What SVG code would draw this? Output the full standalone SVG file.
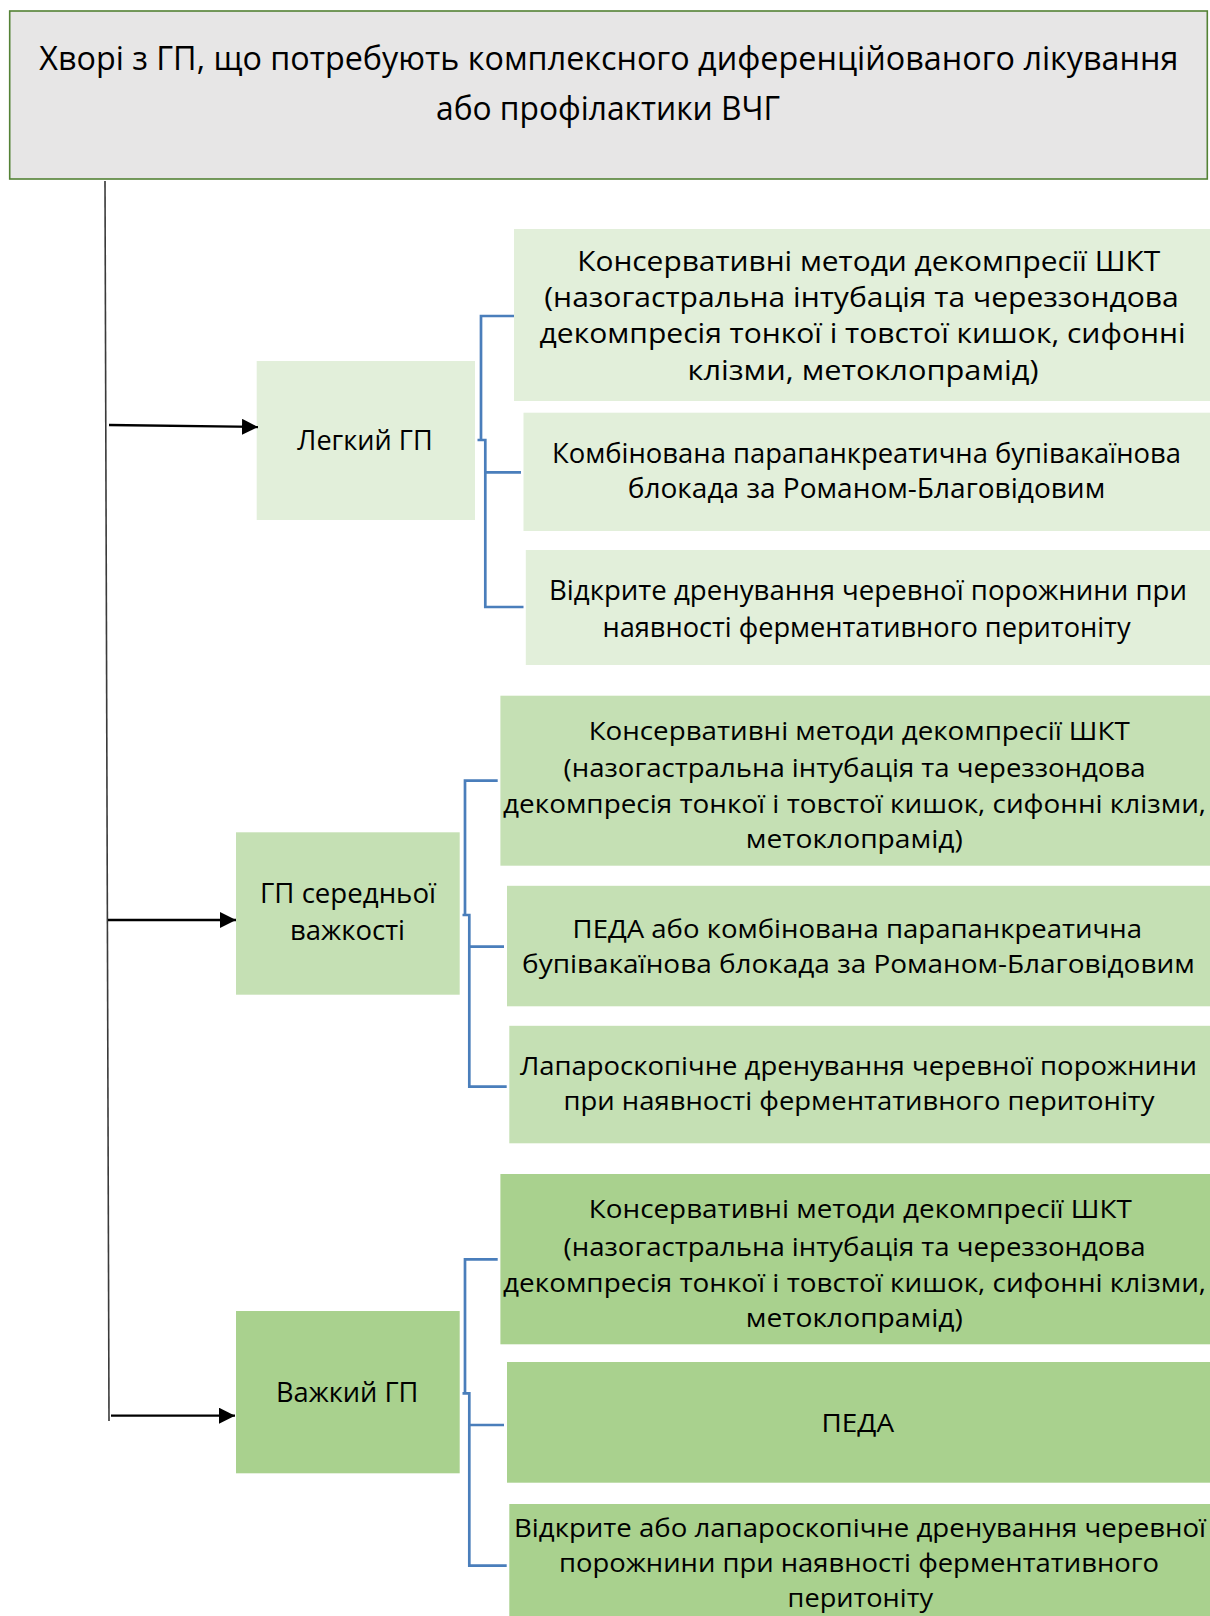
<svg xmlns="http://www.w3.org/2000/svg" width="1210" height="1616" viewBox="0 0 1210 1616">
<style>
text{font-family:"Open Sans","Noto Sans","DejaVu Sans",sans-serif;fill:#000;text-anchor:middle}
.t{font-size:32px}
.a{font-size:26.5px}
.b{font-size:25.5px}
.l{font-size:27.5px}
.lvA{fill:#E2EFDA}
.lvB{fill:#C5E0B4}
.lvC{fill:#A9D18E}
.br{fill:none;stroke:#4A7EBB;stroke-width:2.7}
.ar{fill:none;stroke:#000;stroke-width:2.3}
</style>
<defs>
<marker id="ah" markerUnits="userSpaceOnUse" markerWidth="17" markerHeight="17" refX="16" refY="8" orient="auto">
<path d="M0,0 L16,8 L0,16 z" fill="#000"/>
</marker>
</defs>
<rect width="1210" height="1616" fill="#fff"/>

<g id="title">
<rect x="9.7" y="11" width="1197.6" height="168" fill="#E7E6E6" stroke="#548235" stroke-width="1.6"/>
<text class="t" x="608.8" y="70" textLength="1139" lengthAdjust="spacingAndGlyphs">Хворі з ГП, що потребують комплексного диференційованого лікування</text>
<text class="t" x="608" y="119.5" textLength="344" lengthAdjust="spacingAndGlyphs">або профілактики ВЧГ</text>
</g>

<g id="mild">
<rect class="lvA" x="256.7" y="361" width="218.3" height="159"/>
<text class="l" x="365" y="450" textLength="135.3" lengthAdjust="spacingAndGlyphs">Легкий ГП</text>
</g>
<g id="mildA1">
<rect class="lvA" x="514" y="229" width="696" height="172"/>
<text class="a" x="868.7" y="271" textLength="583" lengthAdjust="spacingAndGlyphs">Консервативні методи декомпресії ШКТ</text>
<text class="a" x="861.5" y="307" textLength="634.5" lengthAdjust="spacingAndGlyphs">(назогастральна інтубація та череззондова</text>
<text class="a" x="862.6" y="343.3" textLength="646" lengthAdjust="spacingAndGlyphs">декомпресія тонкої і товстої кишок, сифонні</text>
<text class="a" x="863" y="379.5" textLength="351" lengthAdjust="spacingAndGlyphs">клізми, метоклопрамід)</text>
</g>
<g id="mildA2">
<rect class="lvA" x="523.5" y="412.7" width="686.5" height="118.3"/>
<text class="a" x="866.5" y="463.3" textLength="629" lengthAdjust="spacingAndGlyphs">Комбінована парапанкреатична бупівакаїнова</text>
<text class="a" x="866.5" y="498.3" textLength="477.5" lengthAdjust="spacingAndGlyphs">блокада за Романом-Благовідовим</text>
</g>
<g id="mildA3">
<rect class="lvA" x="525.8" y="550" width="684.2" height="115"/>
<text class="a" x="868" y="600" textLength="638" lengthAdjust="spacingAndGlyphs">Відкрите дренування черевної порожнини при</text>
<text class="a" x="866.5" y="636.7" textLength="528" lengthAdjust="spacingAndGlyphs">наявності ферментативного перитоніту</text>
</g>

<g id="moderate">
<rect class="lvB" x="236" y="832.3" width="223.7" height="162.4"/>
<text class="l" x="348" y="903.3" textLength="176" lengthAdjust="spacingAndGlyphs">ГП середньої</text>
<text class="l" x="347.5" y="940" textLength="115" lengthAdjust="spacingAndGlyphs">важкості</text>
</g>
<g id="modB1">
<rect class="lvB" x="500.4" y="695.7" width="709.6" height="170"/>
<text class="b" x="859.2" y="740" textLength="541" lengthAdjust="spacingAndGlyphs">Консервативні методи декомпресії ШКТ</text>
<text class="b" x="854.6" y="776.7" textLength="582" lengthAdjust="spacingAndGlyphs">(назогастральна інтубація та череззондова</text>
<text class="b" x="854.6" y="812.7" textLength="703" lengthAdjust="spacingAndGlyphs">декомпресія тонкої і товстої кишок, сифонні клізми,</text>
<text class="b" x="854.3" y="848.3" textLength="217" lengthAdjust="spacingAndGlyphs">метоклопрамід)</text>
</g>
<g id="modB2">
<rect class="lvB" x="507" y="885.8" width="703" height="120.5"/>
<text class="b" x="857.3" y="938.3" textLength="569.4" lengthAdjust="spacingAndGlyphs">ПЕДА або комбінована парапанкреатична</text>
<text class="b" x="858.4" y="973.3" textLength="672.6" lengthAdjust="spacingAndGlyphs">бупівакаїнова блокада за Романом-Благовідовим</text>
</g>
<g id="modB3">
<rect class="lvB" x="509.3" y="1025.8" width="700.7" height="117.5"/>
<text class="b" x="858.4" y="1075" textLength="677" lengthAdjust="spacingAndGlyphs">Лапароскопічне дренування черевної порожнини</text>
<text class="b" x="859" y="1110" textLength="591" lengthAdjust="spacingAndGlyphs">при наявності ферментативного перитоніту</text>
</g>

<g id="severe">
<rect class="lvC" x="236" y="1311" width="223.7" height="162.3"/>
<text class="l" x="347.2" y="1401.7" textLength="142.3" lengthAdjust="spacingAndGlyphs">Важкий ГП</text>
</g>
<g id="sevC1">
<rect class="lvC" x="500.4" y="1174" width="709.6" height="170.3"/>
<text class="b" x="860.3" y="1218.3" textLength="543" lengthAdjust="spacingAndGlyphs">Консервативні методи декомпресії ШКТ</text>
<text class="b" x="854.6" y="1256" textLength="582" lengthAdjust="spacingAndGlyphs">(назогастральна інтубація та череззондова</text>
<text class="b" x="854.6" y="1291.7" textLength="703" lengthAdjust="spacingAndGlyphs">декомпресія тонкої і товстої кишок, сифонні клізми,</text>
<text class="b" x="854.3" y="1326.7" textLength="217" lengthAdjust="spacingAndGlyphs">метоклопрамід)</text>
</g>
<g id="sevC2">
<rect class="lvC" x="507" y="1362" width="703" height="120.7"/>
<text class="b" x="857.8" y="1431.7" textLength="72.5" lengthAdjust="spacingAndGlyphs">ПЕДА</text>
</g>
<g id="sevC3">
<rect class="lvC" x="509.3" y="1504" width="700.7" height="112"/>
<text class="b" x="860" y="1536.7" textLength="692" lengthAdjust="spacingAndGlyphs">Відкрите або лапароскопічне дренування черевної</text>
<text class="b" x="859" y="1571.7" textLength="600" lengthAdjust="spacingAndGlyphs">порожнини при наявності ферментативного</text>
<text class="b" x="860.3" y="1606.7" textLength="145.5" lengthAdjust="spacingAndGlyphs">перитоніту</text>
</g>

<g id="connectors">
<line x1="105" y1="181" x2="109" y2="1421" stroke="#3a3a3a" stroke-width="1.6"/>
<path class="ar" d="M109,425 L258,427" marker-end="url(#ah)"/>
<path class="ar" d="M108,920 L236,920" marker-end="url(#ah)"/>
<path class="ar" d="M111,1415.7 L235,1415.7" marker-end="url(#ah)"/>
<path class="br" d="M514,316 H481 V440 M477.5,440 H485.3 V607 H523.5 M485.3,472.3 H521"/>
<path class="br" d="M497.7,780.7 H465 V915 M462.5,915 H469.3 V1086.7 H506.7 M469.3,946.7 H504"/>
<path class="br" d="M497.7,1259.3 H465 V1393.3 M462.5,1393.3 H469.3 V1565.7 H506.7 M469.3,1425 H504"/>
</g>
</svg>
